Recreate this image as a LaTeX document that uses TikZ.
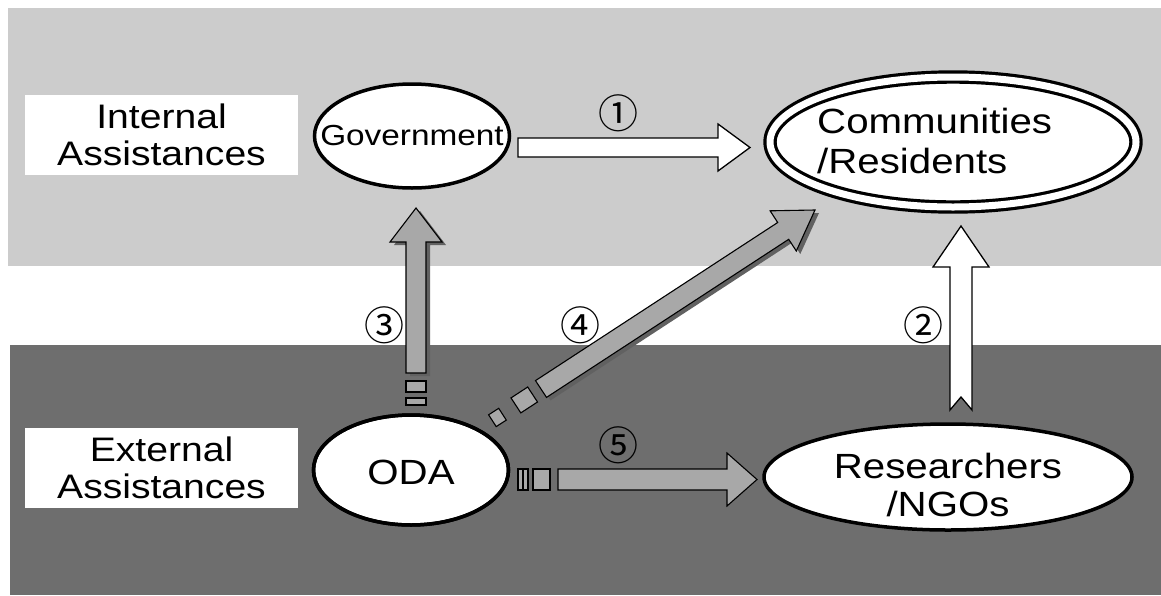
\documentclass[tikz,border=0pt]{standalone}
\usepackage{fontspec}
\setmainfont{Liberation Sans}[FakeStretch=1.15]
\newfontfamily\circfont{Noto Sans CJK JP}
\usetikzlibrary{shapes.geometric}
\definecolor{lightband}{gray}{0.80}
\definecolor{darkband}{gray}{0.43}
\definecolor{arrowgray}{gray}{0.66}
\definecolor{shadowgray}{gray}{0.38}
\tikzset{
  oval/.style={ellipse, draw=black, line width=3.5pt, fill=white, inner sep=0pt},
  bigtext/.style={font=\fontsize{35}{38}\selectfont, inner sep=0pt},
  sidebox/.style={fill=white, minimum width=273pt, minimum height=80pt, inner sep=0pt,
    align=center, font=\fontsize{34}{37}\selectfont},
  whitearrow/.style={draw=black, line width=1.3pt, fill=white, line join=miter},
  grayarrow/.style={draw=black, line width=1.1pt, fill=arrowgray, line join=miter},
  shadow/.style={fill=shadowgray, draw=none},
  num/.style={font=\circfont\fontsize{40}{40}\selectfont, inner sep=0pt}
}
\begin{document}
\begin{tikzpicture}[x=1pt, y=-1pt]
\useasboundingbox (0,0) rectangle (1161,595);
\fill[white] (0,0) rectangle (1161,595);
% background bands
\fill[lightband] (8,8) rectangle (1161,266);
\fill[darkband] (10,345) rectangle (1161,595);

% side labels
\node[sidebox] (internal) at (161.5,135) {Internal\\Assistances};
\node[sidebox] (external) at (161.5,468) {External\\Assistances};

% ovals
\node[oval, minimum width=195pt, minimum height=104pt] (gov) at (412,136) {};
\node[bigtext, font=\fontsize{29}{30}\selectfont] at (gov) {Government};

\node[ellipse, draw=black, line width=3.2pt, double=white, double distance=7pt,
      fill=white, minimum width=366pt, minimum height=130pt, inner sep=0pt]
      (comm) at (953,142) {};
\node[bigtext, align=left, font=\fontsize{35}{40}\selectfont, anchor=west] at (817,141) {Communities\\/Residents};

\node[oval, minimum width=195pt, minimum height=110pt] (oda) at (411,470) {};
\node[bigtext] at (411,472) {ODA};

\node[oval, minimum width=368pt, minimum height=106pt] (res) at (948,477) {};
\node[bigtext, align=center, font=\fontsize{35}{38}\selectfont] at (948,485) {Researchers\\/NGOs};

% arrow 1: Government -> Communities
\draw[whitearrow] (518,138) -- (718,138) -- (718,124) -- (750,147.5) -- (718,171)
  -- (718,157) -- (518,157) -- cycle;
\node[num] (n1) at (618,113) {①};

% arrow 2: Researchers -> Communities
\draw[whitearrow] (950,410) -- (950,267) -- (933,267) -- (961,226) -- (989,267)
  -- (972,267) -- (972,410) -- (961,397) -- cycle;
\node[num] (n2) at (923,325) {②};

% arrow 3: ODA -> Government
\begin{scope}[shift={(4,3)}]
\fill[shadow] (406,373) -- (406,242) -- (390,242) -- (416,208) -- (442,242)
  -- (426,242) -- (426,373) -- cycle;
\end{scope}
\draw[grayarrow] (406,373) -- (406,242) -- (390,242) -- (416,208) -- (442,242)
  -- (426,242) -- (426,373) -- cycle;
\draw[grayarrow] (406,381) rectangle (426,392);
\draw[grayarrow] (406,398) rectangle (426,405);
\node[num] (n3) at (384,325) {③};

% arrow 4: ODA -> Communities
\begin{scope}[shift={(4,3)}]
\fill[shadow] (535.5,380.6) -- (777.7,222.5) -- (770.1,210.8) -- (815,210)
  -- (796.3,251.0) -- (788.7,239.3) -- (546.5,397.4) -- cycle;
\end{scope}
\draw[grayarrow] (535.5,380.6) -- (777.7,222.5) -- (770.1,210.8) -- (815,210)
  -- (796.3,251.0) -- (788.7,239.3) -- (546.5,397.4) -- cycle;
\draw[grayarrow] (527.7,387.0) -- (537.5,402.0) -- (520.8,412.9) -- (511.0,397.9) -- cycle;
\draw[grayarrow] (498.7,408.3) -- (506.3,420.1) -- (496.2,426.6) -- (488.6,414.8) -- cycle;
\node[num] (n4) at (580,325) {④};

% arrow 5: ODA -> Researchers
\draw[grayarrow] (558,469) -- (727,469) -- (727,453) -- (757,479.5) -- (727,506)
  -- (727,490) -- (558,490) -- cycle;
\draw[grayarrow] (533,469) rectangle (550,490);
\draw[grayarrow] (518,469) rectangle (528,490);
\draw[black, line width=1.1pt] (523,469) -- (523,490);
\node[num] (n5) at (618,445) {⑤};

% redraw ODA outline over the dashed tails
\node[oval, fill=none, minimum width=195pt, minimum height=110pt] at (411,470) {};
\end{tikzpicture}
\end{document}
